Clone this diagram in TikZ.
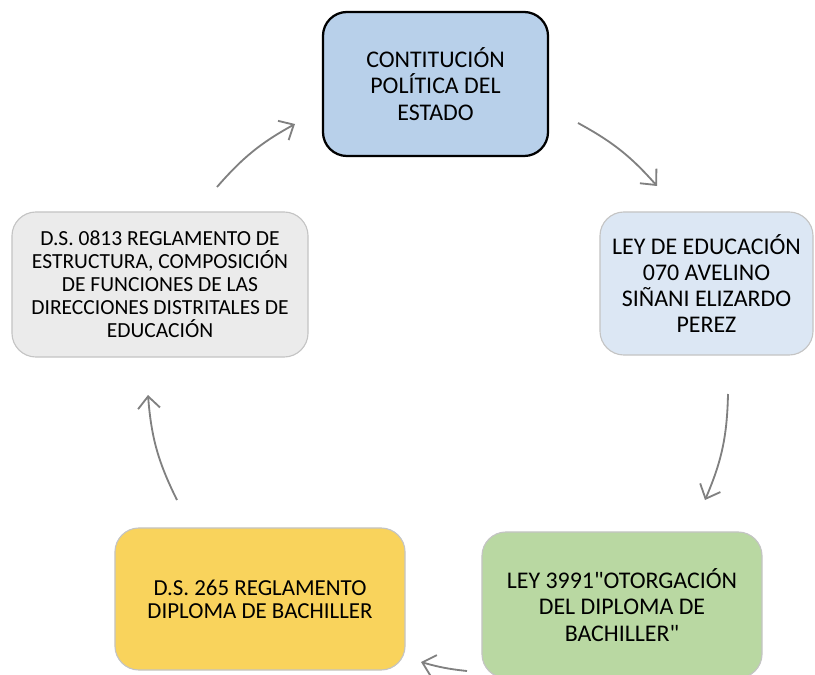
\documentclass[tikz,border=0pt]{standalone}
\usepackage{fontspec}
\setmainfont{Carlito}
\usetikzlibrary{arrows.meta}
\definecolor{azulcpe}{HTML}{B8D0EA}
\definecolor{azulley}{HTML}{DCE7F4}
\definecolor{grisds}{HTML}{EBEBEB}
\definecolor{verdeley}{HTML}{B9D8A2}
\definecolor{amarillods}{HTML}{F9D35C}
\definecolor{borde}{HTML}{C4C4C4}
\definecolor{flechagris}{HTML}{808080}
\begin{document}
\begin{tikzpicture}[x=0.025cm, y=-0.025cm,
    caja/.style={rounded corners=0.6cm, align=center, inner sep=0pt, draw=borde, line width=0.8pt,
        font=\fontsize{17}{18.6}\selectfont},
    cajachica/.style={caja, font=\fontsize{16.3}{16.4}\selectfont},
    flecha/.style={draw=flechagris, line width=1.3pt, -{Straight Barb[length=3mm, width=5.5mm]}}]
    \useasboundingbox (0,0) rectangle (815,675);
    \clip (0,0) rectangle (815,675);
    % cajas
    \node[caja, draw=black, line width=1.6pt, fill=azulcpe, minimum width=5.625cm, minimum height=3.6cm]
        (cpe) at (435.5,84) {CONTITUCIÓN\\POLÍTICA DEL\\ESTADO};
    \node[caja, fill=azulley, minimum width=5.325cm, minimum height=3.575cm]
        (ley070) at (706.5,283.5) {LEY DE EDUCACIÓN\\070 AVELINO\\SIÑANI ELIZARDO\\PEREZ};
    \node[caja, fill=verdeley, minimum width=7cm, minimum height=3.65cm]
        (ley3991) at (622,605) {LEY 3991\textquotedbl OTORGACIÓN\\DEL DIPLOMA DE\\BACHILLER\textquotedbl};
    \node[cajachica, fill=amarillods, minimum width=7.25cm, minimum height=3.55cm]
        (ds265) at (260,599) {D.S. 265 REGLAMENTO\\DIPLOMA DE BACHILLER};
    \node[cajachica, font=\fontsize{15.3}{16.4}\selectfont, fill=grisds, minimum width=7.4cm, minimum height=3.625cm]
        (ds0813) at (160,284.5) {D.S. 0813 REGLAMENTO DE\\ESTRUCTURA, COMPOSICIÓN\\DE FUNCIONES DE LAS\\DIRECCIONES DISTRITALES DE\\EDUCACIÓN};
    % extremos de las flechas
    \coordinate (f1a) at (217,187);  \coordinate (f1b) at (295,124);
    \coordinate (f2a) at (578,123);  \coordinate (f2b) at (657,186);
    \coordinate (f3a) at (728,394);  \coordinate (f3b) at (705,500);
    \coordinate (f4a) at (467,671);  \coordinate (f4b) at (421,662);
    \coordinate (f5a) at (177,500);  \coordinate (f5b) at (148,395);
    \foreach \ini/\fin/\ang in {f1a/f1b/10, f2a/f2b/10, f3a/f3b/11, f4a/f4b/5, f5a/f5b/11} {
        \draw[flecha] (\ini) to[bend left=\ang] (\fin);
    }
\end{tikzpicture}
\end{document}
